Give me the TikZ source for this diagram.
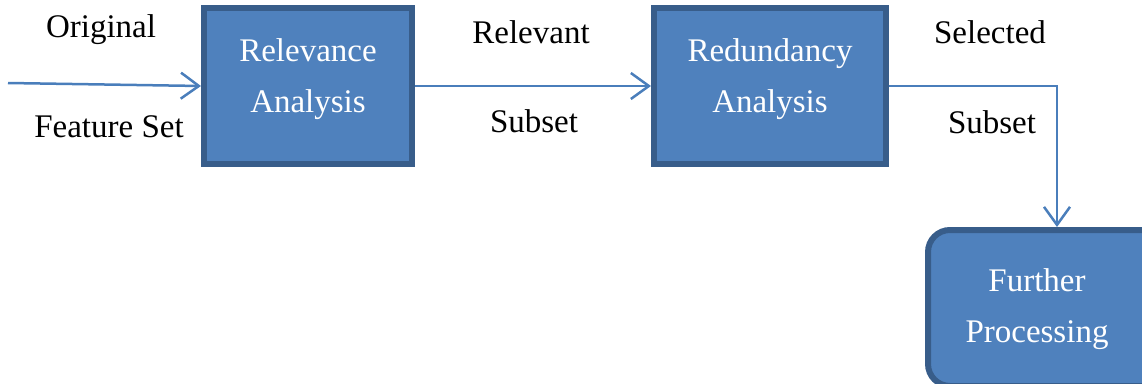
\documentclass[tikz,border=0pt]{standalone}
\usepackage{fontspec}
\setmainfont{Liberation Serif}
\usetikzlibrary{arrows.meta}
\definecolor{boxfill}{HTML}{4F81BD}
\definecolor{boxline}{HTML}{385D8A}
\definecolor{linkc}{HTML}{4A7EBB}
\tikzset{
  blk/.style={draw=boxline, fill=boxfill, line width=6pt, inner sep=0pt},
  blktext/.style={text=white, align=center, font=\fontsize{33}{51}\selectfont, inner sep=0pt},
  lbl/.style={text=black, font=\fontsize{33}{40}\selectfont, inner sep=0pt},
  arr/.style={draw=linkc, line width=2.5pt, -{Straight Barb[length=18pt, width=26pt, line width=2.5pt]}},
}
\begin{document}
\begin{tikzpicture}[x=1pt, y=-1pt]
\useasboundingbox (0,0) rectangle (1142,383);
\node[blk, minimum width=208pt, minimum height=156pt] (rel) at (308,86) {};
\node[blktext] (relt) at (308,79) {Relevance\\Analysis};
\node[blk, minimum width=232pt, minimum height=156pt] (red) at (770,86) {};
\node[blktext] (redt) at (770,79) {Redundancy\\Analysis};
\node[blk, rounded corners=22pt, minimum width=258pt, minimum height=156pt] (fp) at (1057,308) {};
\node[blktext] (fpt) at (1037,309) {Further\\Processing};
\coordinate (in) at (8,83);
\draw[arr] (in) -- (rel.west);
\draw[arr] (rel.east) -- (red.west);
\draw[arr] (red.east) -| (fp.north);
\node[lbl] (l1) at (101,30) {Original};
\node[lbl] (l2) at (109,127) {Feature Set};
\node[lbl] (l3) at (531,32) {Relevant};
\node[lbl] (l4) at (534,121) {Subset};
\node[lbl] (l5) at (990,32) {Selected};
\node[lbl] (l6) at (992,122) {Subset};
\end{tikzpicture}
\end{document}
